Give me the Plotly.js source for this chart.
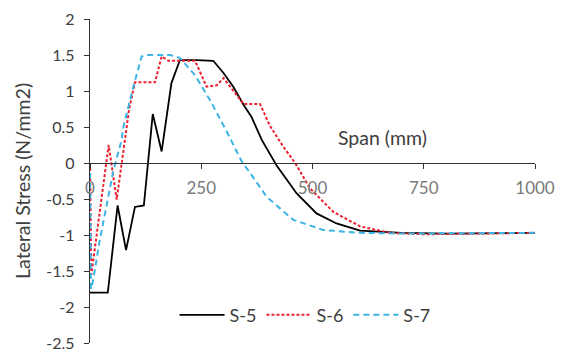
<!DOCTYPE html>
<html>
<head>
<meta charset="utf-8">
<script src="https://cdn.plot.ly/plotly-3.0.1.min.js"></script>
<style>html,body{margin:0;padding:0;background:#fff;}#chart{width:561px;height:354px;}</style>
</head>
<body>
<div id="chart"></div>
<script>
// Span (mm) and lateral stress (N/mm2)
const s5Span = [0, 40, 62, 81, 101, 121, 141, 161, 183, 202, 240, 277, 300, 322, 345, 363, 386, 419, 464, 509, 554, 607, 700, 800, 1000];
const s5Stress = [-1.80, -1.80, -0.59, -1.21, -0.61, -0.59, 0.68, 0.16, 1.11, 1.43, 1.43, 1.42, 1.25, 1.06, 0.81, 0.64, 0.32, -0.03, -0.42, -0.70, -0.84, -0.94, -0.97, -0.98, -0.97];

const s6Span = [0, 3, 42, 60, 88, 101, 146, 161, 176, 236, 262, 285, 300, 345, 382, 404, 434, 461, 494, 547, 607, 674, 750, 1000];
const s6Stress = [0, -1.55, 0.25, -0.51, 0.75, 1.12, 1.12, 1.48, 1.42, 1.42, 1.06, 1.08, 1.18, 0.82, 0.82, 0.52, 0.23, 0.0, -0.35, -0.68, -0.88, -0.97, -0.99, -0.97];

const s7Span = [0, 2, 7, 22, 41, 52, 71, 75, 97, 116, 127, 180, 202, 236, 270, 307, 341, 360, 397, 457, 524, 607, 700, 1000];
const s7Stress = [0, -1.75, -1.63, -1.07, -0.47, -0.12, 0.32, 0.50, 1.05, 1.48, 1.50, 1.50, 1.46, 1.22, 0.87, 0.44, 0.02, -0.14, -0.47, -0.79, -0.93, -0.97, -0.98, -0.97];

const seriesNames = ['S-5', 'S-6', 'S-7'];
const xTickVals = [0, 250, 500, 750, 1000];
const xTickText = ['0', '250', '500', '750', '1000'];
const yTickVals = [2, 1.5, 1, 0.5, 0, -0.5, -1, -1.5, -2, -2.5];
const yTickText = ['2', '1.5', '1', '0.5', '0', '-0.5', '-1', '-1.5', '-2', '-2.5'];

const traces = [
  {x: s5Span, y: s5Stress, name: seriesNames[0], type: 'scatter', mode: 'lines',
   line: {color: '#000000', width: 1.8}},
  {x: s6Span, y: s6Stress, name: seriesNames[1], type: 'scatter', mode: 'lines',
   line: {color: '#ec2230', width: 2, dash: '3px,2px'}},
  {x: s7Span, y: s7Stress, name: seriesNames[2], type: 'scatter', mode: 'lines',
   line: {color: '#3db4e3', width: 2, dash: '6px,4px'}}
];

const layout = {
  width: 561, height: 354,
  margin: {l: 90, r: 26, t: 19, b: 11},
  paper_bgcolor: '#ffffff', plot_bgcolor: '#ffffff',
  font: {family: 'Lato, "Open Sans", sans-serif', color: '#595959', size: 16},
  showlegend: true,
  legend: {orientation: 'h', x: 0.19, xanchor: 'left', y: 0.086, yanchor: 'middle',
    bgcolor: 'rgba(0,0,0,0)', font: {size: 18, color: '#404040'}, itemwidth: 45,
    traceorder: 'normal'},
  xaxis: {range: [0, 1000], tickmode: 'array', tickvals: xTickVals, ticktext: xTickText,
    showgrid: false, zeroline: false, showline: true, linecolor: '#333333', linewidth: 1.3,
    ticks: 'outside', ticklen: 5, tickcolor: '#333333', anchor: 'free', position: 0.5556,
    ticklabelstandoff: 4,
    tickfont: {size: 17, color: '#7a7a7a'}, fixedrange: true},
  yaxis: {range: [-2.5, 2], tickmode: 'array', tickvals: yTickVals, ticktext: yTickText,
    showgrid: false, zeroline: false, showline: true, linecolor: '#333333', linewidth: 1.3,
    ticks: 'outside', ticklen: 5, tickcolor: '#333333', ticklabelstandoff: 6,
    tickfont: {size: 16, color: '#404040'}, fixedrange: true},
  annotations: [
    {text: 'Lateral Stress (N/mm2)', xref: 'paper', yref: 'paper', x: -0.153, y: 0.5,
     xanchor: 'center', yanchor: 'middle', textangle: -90, showarrow: false,
     font: {size: 19.5, color: '#404040'}},
    {text: 'Span (mm)', xref: 'x', yref: 'y', x: 658, y: 0.36,
     xanchor: 'center', yanchor: 'middle', showarrow: false,
     font: {size: 19.5, color: '#404040'}}
  ]
};

Plotly.newPlot('chart', traces, layout, {staticPlot: true, displayModeBar: false});
</script>
</body>
</html>
